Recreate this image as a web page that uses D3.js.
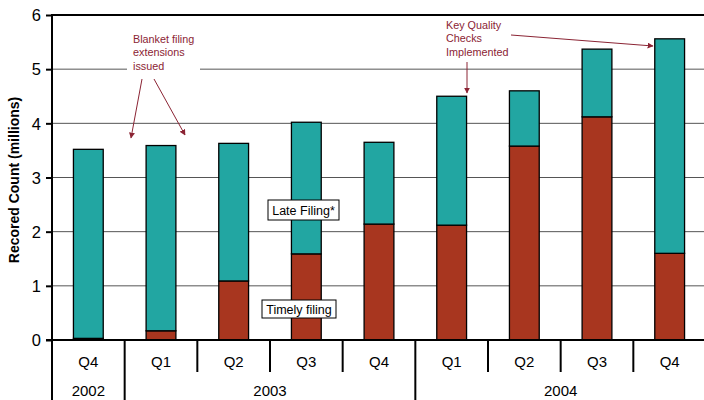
<!DOCTYPE html>
<html><head><meta charset="utf-8">
<script src="https://cdn.jsdelivr.net/npm/d3@7"></script>
<style>body{margin:0;background:#fff}svg{display:block;font-family:Arial,"Liberation Sans",sans-serif}</style>
</head><body><svg id="c" width="704" height="400"></svg>
<script>
const quarters = ["Q4","Q1","Q2","Q3","Q4","Q1","Q2","Q3","Q4"];
const years = [{label:"2002", start:0, end:1},{label:"2003", start:1, end:5},{label:"2004", start:5, end:9}];
const timely = [0.03, 0.17, 1.09, 1.59, 2.14, 2.12, 3.58, 4.12, 1.60];
const total  = [3.52, 3.59, 3.63, 4.02, 3.65, 4.50, 4.60, 5.37, 5.56];
const late = total.map((t,i)=>t - timely[i]);
const yTicks = [0,1,2,3,4,5,6];

const svg = d3.select("#c");
const L = 52, R = 706, T = 15, B = 340;
const ids = quarters.map((q,i)=>i);
const x = d3.scaleBand().domain(ids).range([L,R]).paddingInner(0.59).paddingOuter(0.295);
const xb = d3.scaleBand().domain(ids).range([L,R]);
const y = d3.scaleLinear().domain([0,6]).range([B,T]);

const red = "#A8361F", teal = "#22A6A2", annot = "#8B2434";

// gridlines
svg.append("g").selectAll("line").data(yTicks.filter(d=>d>0 && d<6)).join("line")
  .attr("x1",L).attr("x2",704).attr("y1",d=>y(d)).attr("y2",d=>y(d))
  .attr("stroke","#555").attr("stroke-width",1);
// top border
svg.append("line").attr("x1",L).attr("x2",704).attr("y1",y(6)).attr("y2",y(6)).attr("stroke","#000").attr("stroke-width",2);

// white box behind blanket annotation
svg.append("rect").attr("x",127).attr("y",30).attr("width",73).attr("height",42).attr("fill","#fff");

// bars
const stack = d3.stack().keys(["timely","late"])(ids.map(i=>({timely:timely[i], late:late[i]})));
const colors = {timely:red, late:teal};
stack.forEach(s=>{
  svg.append("g").selectAll("rect").data(s).join("rect")
    .attr("x",(d,i)=>x(i)).attr("width",x.bandwidth())
    .attr("y",d=>y(d[1])).attr("height",d=>y(d[0])-y(d[1]))
    .attr("fill",colors[s.key]).attr("stroke","#000").attr("stroke-width",1.3);
});

// y axis
const yAxis = d3.axisLeft(y).tickValues(yTicks).tickSize(6).tickFormat(d3.format("d"));
const ya = svg.append("g").attr("transform",`translate(${L},0)`).call(yAxis);
ya.select(".domain").remove();
ya.selectAll(".tick line").attr("stroke","#000").attr("stroke-width",2);
ya.selectAll(".tick text").attr("font-size",16.5).attr("fill","#000").attr("x",-11).attr("dy","0.35em");
svg.append("line").attr("x1",L).attr("x2",L).attr("y1",T-1).attr("y2",400).attr("stroke","#000").attr("stroke-width",2);

// x axis line
svg.append("line").attr("x1",L-6).attr("x2",704).attr("y1",B).attr("y2",B).attr("stroke","#000").attr("stroke-width",2);
// quarter separators
svg.append("g").selectAll("line").data(d3.range(1,10)).join("line")
  .attr("x1",i=>L + i*xb.step()).attr("x2",i=>L + i*xb.step())
  .attr("y1",B).attr("y2",i=>(i===1||i===5)?400:372)
  .attr("stroke","#000").attr("stroke-width",2);
// quarter labels
svg.append("g").selectAll("text").data(ids).join("text")
  .attr("x",i=>xb(i)+xb.bandwidth()/2).attr("y",367).attr("text-anchor","middle")
  .attr("font-size",15).text(i=>quarters[i]);
// year labels
svg.append("g").selectAll("text").data(years).join("text")
  .attr("x",d=>(L + d.start*xb.step() + L + d.end*xb.step())/2).attr("y",396).attr("text-anchor","middle")
  .attr("font-size",15).text(d=>d.label);

// y label
svg.append("text").attr("transform","translate(19,180) rotate(-90)").attr("text-anchor","middle")
  .attr("font-size",14).attr("font-weight","bold").text("Recored Count (millions)");

// arrow marker
const defs = svg.append("defs");
defs.append("marker").attr("id","ah").attr("viewBox","0 0 10 10").attr("refX",9).attr("refY",5)
  .attr("markerWidth",6).attr("markerHeight",6).attr("orient","auto")
  .append("path").attr("d","M0,0 L10,5 L0,10 z").attr("fill",annot);

function arrow(x1,y1,x2,y2){
  svg.append("line").attr("x1",x1).attr("y1",y1).attr("x2",x2).attr("y2",y2)
    .attr("stroke",annot).attr("stroke-width",1).attr("marker-end","url(#ah)");
}

// annotations
const t1 = svg.append("text").attr("font-size",10.8).attr("fill",annot);
["Blanket filing","extensions","issued"].forEach((s,k)=>t1.append("tspan").attr("x",133).attr("y",43+k*13.3).text(s));
arrow(142,79,131,138);
arrow(154,79,185,135);

const t2 = svg.append("text").attr("font-size",10.8).attr("fill",annot);
["Key Quality","Checks","Implemented"].forEach((s,k)=>t2.append("tspan").attr("x",446).attr("y",29+k*13.3).text(s));
arrow(467,62,467,93);
arrow(511,35,653,46);

// labels in boxes
function boxLabel(x0,y0,w,h,txt){
  svg.append("rect").attr("x",x0).attr("y",y0).attr("width",w).attr("height",h).attr("fill","#fff").attr("stroke","#000").attr("stroke-width",1);
  svg.append("text").attr("x",x0+w/2).attr("y",y0+h/2).attr("dy","0.36em").attr("text-anchor","middle").attr("font-size",12.5).text(txt);
}
boxLabel(268,200,71,20,"Late Filing*");
boxLabel(262,300,74,18,"Timely filing");
</script></body></html>
